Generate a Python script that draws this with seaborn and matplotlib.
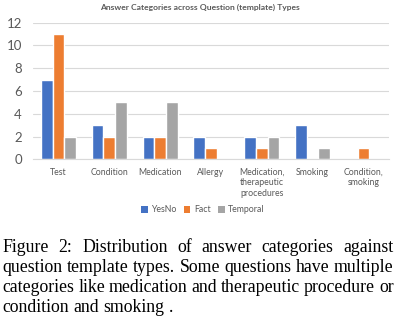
import numpy as np
import pandas as pd
import seaborn as sns
import matplotlib.pyplot as plt
from matplotlib.patches import Patch

# data
categories = ["Test", "Condition", "Medication", "Allergy",
              "Medication,\ntherapeutic\nprocedures", "Smoking", "Condition,\nsmoking"]
yesno = [7, 3, 2, 2, 2, 3, 0]
fact = [11, 2, 2, 1, 1, 0, 1]
temporal = [2, 5, 5, 0, 2, 1, 0]
series_names = ["YesNo", "Fact", "Temporal"]
colors = ["#4472C4", "#ED7D31", "#A5A5A5"]

caption_lines = [
    "Figure 2:  Distribution of answer categories against",
    "question template types. Some questions have multiple",
    "categories like medication and therapeutic procedure or",
    "condition and smoking .",
]

df = pd.DataFrame({"category": categories, "YesNo": yesno, "Fact": fact, "Temporal": temporal})
long = df.melt(id_vars="category", var_name="series", value_name="count")

sns.set_style("white")
plt.rcParams['font.family'] = ['Lato', 'DejaVu Sans']

fig = plt.figure(figsize=(3.96, 3.24), dpi=100)
ax = fig.add_axes([0.0833, 0.508, 0.8987, 0.422])

sns.barplot(data=long, x="category", y="count", hue="series", order=categories,
            hue_order=series_names, palette=colors, width=0.69, gap=0,
            saturation=1, ax=ax, legend=False)

ax.set_ylim(0, 12)
ax.set_xlim(-0.5, len(categories) - 0.5)
ax.set_yticks(range(0, 13, 2))
ax.yaxis.grid(True, color="#D9D9D9", linewidth=0.8)
ax.set_axisbelow(True)
for s in ["top", "right", "left"]:
    ax.spines[s].set_visible(False)
ax.spines["bottom"].set_color("#D9D9D9")
ax.spines["bottom"].set_linewidth(0.8)
ax.set_xlabel("")
ax.set_ylabel("")

ax.tick_params(axis="y", length=0, labelsize=9.5, labelcolor="#595959", pad=8)
ax.tick_params(axis="x", length=0, labelsize=6.3, labelcolor="#595959", pad=6)
ax.set_xticks(range(len(categories)))
ax.set_xticklabels(categories, linespacing=1.25, va="top")
# category separator ticks
ax.set_xticks(np.arange(-0.5, len(categories), 1.0), minor=True)
ax.tick_params(axis="x", which="minor", length=3.5, color="#D9D9D9", width=0.8)

fig.text(200 / 396, 1 - 7 / 324, "Answer Categories across Question (template) Types",
         fontsize=6.1, color="#595959", fontweight="bold", ha="center", va="center")

# legend
handles = [Patch(facecolor=c, edgecolor="none") for c in colors]
fig.legend(handles, series_names, loc="center", bbox_to_anchor=(203 / 396, 1 - 210 / 324),
           ncol=3, frameon=False, fontsize=6.3, labelcolor="#595959",
           handlelength=0.7, handleheight=0.7, handletextpad=0.4, columnspacing=0.9)

# justified caption
renderer = fig.canvas.get_renderer()
x_left, x_right = 2.5, 393.5
baselines = [252, 272, 292, 312]
probe = fig.text(0, 0, caption_lines[1], family="Liberation Serif", fontsize=11)
natural = probe.get_window_extent(renderer).width
probe.remove()
cap_size = 11 * 388 / natural
cap_font = dict(family="Liberation Serif", fontsize=cap_size, color="black")
for i, line in enumerate(caption_lines):
    words = line.split()
    texts = []
    widths = []
    for w in words:
        t = fig.text(0, 0, w, ha="left", va="baseline", **cap_font)
        texts.append(t)
        widths.append(t.get_window_extent(renderer).width)
    if i < len(caption_lines) - 1:
        gap = (x_right - x_left - sum(widths)) / (len(words) - 1)
    else:
        sp = fig.text(0, 0, "a a", **cap_font)
        sa = fig.text(0, 0, "aa", **cap_font)
        gap = sp.get_window_extent(renderer).width - sa.get_window_extent(renderer).width
        sp.remove()
        sa.remove()
    x = x_left
    for t, wd in zip(texts, widths):
        t.set_position((x / 396, 1 - baselines[i] / 324))
        x += wd + gap

fig.savefig("out.png", dpi=100)
